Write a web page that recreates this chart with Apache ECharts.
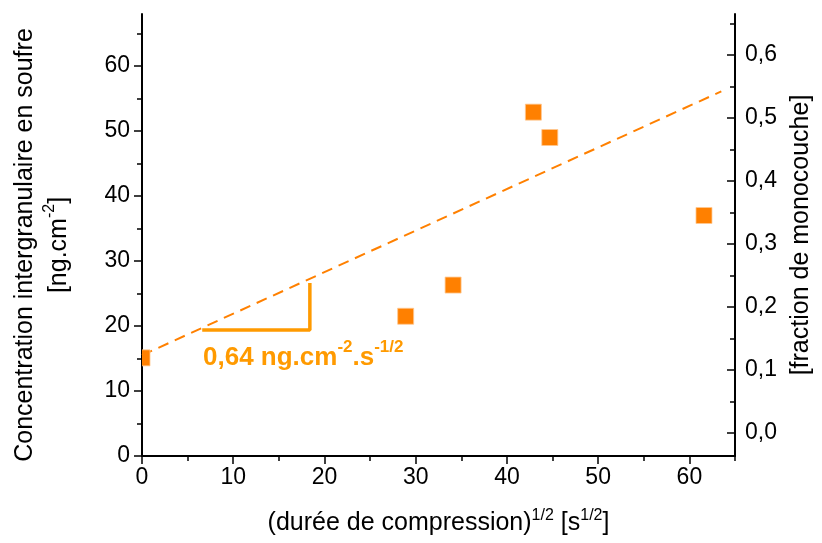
<!DOCTYPE html>
<html>
<head>
<meta charset="utf-8">
<script src="https://cdn.jsdelivr.net/npm/echarts@6/dist/echarts.min.js"></script>
<style>
html,body{margin:0;padding:0;background:#fff;}
#c{width:822px;height:543px;}
</style>
</head>
<body>
<div id="c"></div>
<script>
// ---- data ----
const pointsX = [0, 28.9, 34.1, 42.9, 44.7, 61.6];
const pointsY = [15.1, 21.5, 26.3, 52.9, 49.0, 37.0];
const fitX = [0, 63.5];
const fitY = [15.5, 56.1];
const slopeX = [6.6, 18.4, 18.4];
const slopeY = [19.4, 19.4, 26.6];
const xTicks = [0, 10, 20, 30, 40, 50, 60];
const xMinor = [5, 15, 25, 35, 45, 55, 65];
const yTicks = [0, 10, 20, 30, 40, 50, 60];
const yMinor = [5, 15, 25, 35, 45, 55, 65];
const rTicks = [0, 0.1, 0.2, 0.3, 0.4, 0.5, 0.6];
const rMinor = [0.05, 0.15, 0.25, 0.35, 0.45, 0.55, 0.65];

const FONT = 'Liberation Sans';
const ORANGE = '#FF8000';
const ANNOT = '#FF9A00';
const zip = (a, b) => a.map((v, i) => [v, b[i]]);

const chart = echarts.init(document.getElementById('c'));
const lineStyle = {color: '#000', width: 2};
const labelStyle = {color: '#000', fontFamily: FONT, fontSize: 23};

chart.setOption({
  animation: false,
  grid: {left: 139, right: 87, top: 14, bottom: 87, containLabel: false},
  xAxis: [{
    type: 'value', min: 0, max: 65, position: 'bottom',
    axisLine: {show: true, lineStyle},
    axisTick: {show: true, customValues: xTicks, length: 8, lineStyle: {color: '#000', width: 1.5}},
    axisLabel: Object.assign({customValues: xTicks, margin: 10}, labelStyle),
    splitLine: {show: false},
    name: '(durée de compression){s|1/2} [s{s|1/2}]',
    nameLocation: 'middle', nameGap: 52,
    nameTextStyle: {color: '#000', fontFamily: FONT, fontSize: 25, lineHeight: 30,
      rich: {s: {fontFamily: FONT, fontSize: 16, color: '#000', verticalAlign: 'top', lineHeight: 26}}}
  }, {
    type: 'value', min: 0, max: 65, position: 'bottom',
    axisLine: {show: false},
    axisTick: {show: true, customValues: xMinor, length: 5, lineStyle: {color: '#000', width: 1.5}},
    axisLabel: {show: false}, splitLine: {show: false}
  }],
  yAxis: [{
    type: 'value', min: 0, max: 68, position: 'left',
    axisLine: {show: true, lineStyle},
    axisTick: {show: true, customValues: yTicks, length: 8, lineStyle: {color: '#000', width: 1.5}},
    axisLabel: Object.assign({customValues: yTicks, margin: 12}, labelStyle),
    splitLine: {show: false},
    name: 'Concentration intergranulaire en soufre\n[ng.cm{s|-2}]',
    nameLocation: 'middle', nameGap: 66, nameRotate: 90,
    nameTextStyle: {color: '#000', fontFamily: FONT, fontSize: 25, lineHeight: 34,
      padding: [0, 20, 0, 0],
      rich: {s: {fontFamily: FONT, fontSize: 16, color: '#000', verticalAlign: 'top', lineHeight: 28}}}
  }, {
    type: 'value', min: 0, max: 68, position: 'left',
    axisLine: {show: false},
    axisTick: {show: true, customValues: yMinor, length: 5, lineStyle: {color: '#000', width: 1.5}},
    axisLabel: {show: false}, splitLine: {show: false}
  }, {
    type: 'value', min: -0.0365, max: 0.665, position: 'right',
    axisLine: {show: true, lineStyle},
    axisTick: {show: true, inside: true, customValues: rTicks, length: 8, lineStyle: {color: '#000', width: 1.5}},
    axisLabel: Object.assign({customValues: rTicks, margin: 10,
      formatter: v => v.toFixed(1).replace('.', ',')}, labelStyle),
    splitLine: {show: false},
    name: '[fraction de monocouche]',
    nameLocation: 'middle', nameGap: 54, nameRotate: 90,
    nameTextStyle: {color: '#000', fontFamily: FONT, fontSize: 25}
  }, {
    type: 'value', min: -0.0365, max: 0.665, position: 'right',
    axisLine: {show: false},
    axisTick: {show: true, inside: true, customValues: rMinor, length: 5, lineStyle: {color: '#000', width: 1.5}},
    axisLabel: {show: false}, splitLine: {show: false}
  }],
  series: [{
    type: 'line', data: zip(fitX, fitY), xAxisIndex: 0, yAxisIndex: 0,
    symbol: 'none', lineStyle: {color: ORANGE, width: 2, type: [11, 7]}, z: 2
  }, {
    type: 'line', data: zip(slopeX, slopeY), xAxisIndex: 0, yAxisIndex: 0,
    symbol: 'none', lineStyle: {color: ANNOT, width: 3.5}, z: 3
  }, {
    type: 'custom', data: zip(pointsX, pointsY), xAxisIndex: 0, yAxisIndex: 0,
    clip: true, z: 4,
    renderItem: function (params, api) {
      const p = api.coord([api.value(0), api.value(1)]);
      const s = 16;
      return {
        type: 'rect',
        shape: {x: p[0] - s / 2, y: p[1] - s / 2, width: s, height: s},
        style: {fill: ORANGE, stroke: '#FFC890', lineWidth: 0.8}
      };
    }
  }],
  graphic: [{
    type: 'text', left: 203, top: 339, z: 10,
    style: {
      text: '{b|0,64 ng.cm}{s|-2}{b|.s}{s|-1/2}',
      rich: {
        b: {fontFamily: FONT, fontWeight: 'bold', fontSize: 26, fill: ANNOT, lineHeight: 32, verticalAlign: 'bottom'},
        s: {fontFamily: FONT, fontWeight: 'bold', fontSize: 17, fill: ANNOT, lineHeight: 32, verticalAlign: 'top'}
      }
    }
  }]
});
</script>
</body>
</html>
